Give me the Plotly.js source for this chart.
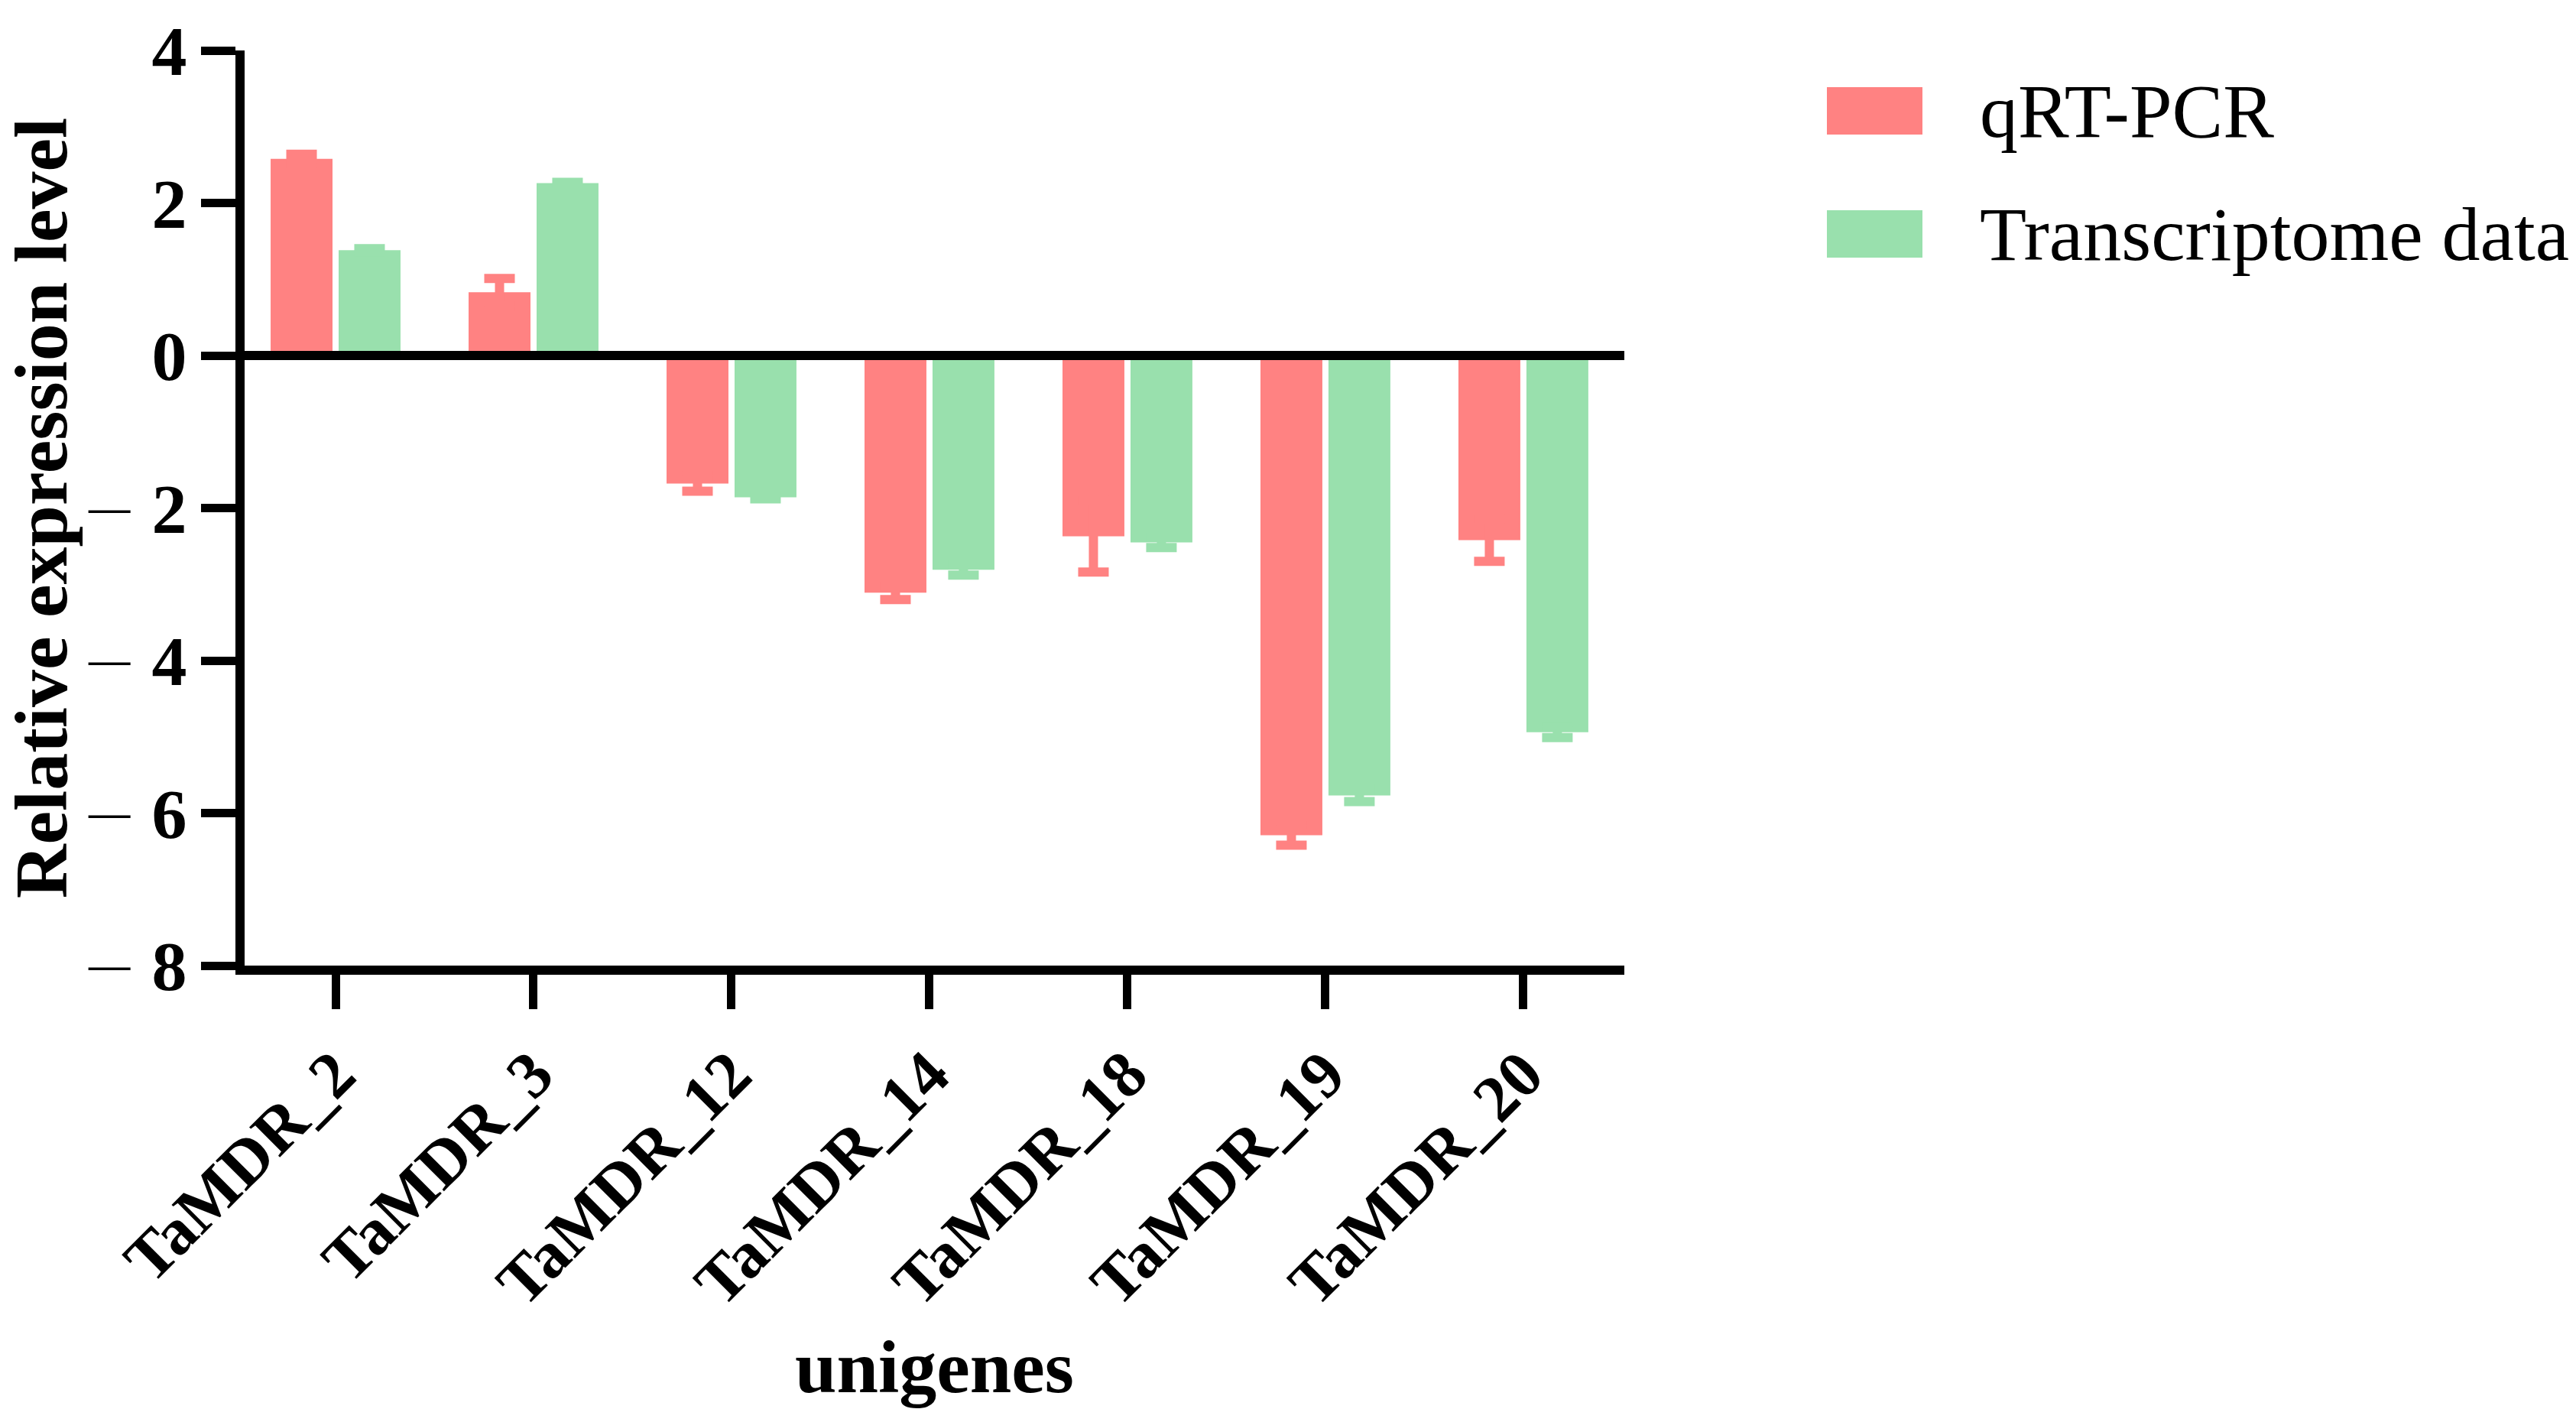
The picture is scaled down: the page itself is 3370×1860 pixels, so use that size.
<!DOCTYPE html>
<html><head><meta charset="utf-8">
<script src="https://cdn.plot.ly/plotly-3.0.1.min.js"></script>
<style>html,body{margin:0;padding:0;background:#fff}#chart{width:3370px;height:1860px}</style>
</head><body><div id="chart"></div>
<script>
// ---- data ----
const categories = ['TaMDR_2', 'TaMDR_3', 'TaMDR_12', 'TaMDR_14', 'TaMDR_18', 'TaMDR_19', 'TaMDR_20'];
const qrtpcrValues = [2.58, 0.83, -1.68, -3.11, -2.37, -6.29, -2.42];
const qrtpcrErrors = [0.06, 0.18, 0.10, 0.09, 0.47, 0.13, 0.28];
const transcriptomeValues = [1.38, 2.26, -1.86, -2.81, -2.45, -5.77, -4.94];
const transcriptomeErrors = [0.02, 0.01, 0.02, 0.07, 0.07, 0.08, 0.07];
const seriesNames = ['qRT-PCR', 'Transcriptome data'];
const seriesColors = ['#FF8282', '#99E0AD'];
const yTickValues = [-8, -6, -4, -2, 0, 2, 4];
const yTickText = yTickValues.map(v => v < 0
  ? '<span style="font-family:\'DejaVu Sans\';font-weight:200;font-size:88px">\u2212</span>\u2009' + Math.abs(v)
  : String(v));

// ---- layout geometry ----
const W = 3370, H = 1860;
const M = {l: 320, r: 1245, t: 66, b: 597};
const plotW = W - M.l - M.r, plotH = H - M.t - M.b;
const px2x = p => (p - M.l) / plotW;
const px2y = p => (H - M.b - p) / plotH;
const FONT = 'Liberation Serif, Times New Roman, serif';

function barTrace(name, vals, errs, color) {
  return {
    type: 'bar', name: name, x: categories, y: vals,
    marker: {color: color, line: {width: 0}},
    error_y: {type: 'data', array: errs, symmetric: true, visible: true,
              color: color, thickness: 12, width: 20},
    showlegend: false, hoverinfo: 'x+y'
  };
}

const data = [
  barTrace(seriesNames[0], qrtpcrValues, qrtpcrErrors, seriesColors[0]),
  barTrace(seriesNames[1], transcriptomeValues, transcriptomeErrors, seriesColors[1])
];

// legend drawn manually (large swatches)
const legendRows = [{top: 114, bottom: 176}, {top: 275, bottom: 337}];
const shapes = [{
  type: 'line', xref: 'paper', yref: 'y', x0: 0, x1: 1, y0: 0, y1: 0,
  line: {color: '#000', width: 12}, layer: 'above'
}];
const annotations = [];
legendRows.forEach((r, i) => {
  shapes.push({type: 'rect', xref: 'paper', yref: 'paper',
    x0: px2x(2390), x1: px2x(2515), y0: px2y(r.bottom), y1: px2y(r.top),
    fillcolor: seriesColors[i], line: {width: 0}, layer: 'above'});
  annotations.push({xref: 'paper', yref: 'paper', x: px2x(2588), y: px2y((r.top + r.bottom) / 2),
    xanchor: 'left', yanchor: 'middle', showarrow: false, text: seriesNames[i],
    font: {family: FONT, size: 100, color: '#000'}});
});

const layout = {
  width: W, height: H,
  margin: M,
  paper_bgcolor: '#fff', plot_bgcolor: '#fff',
  barmode: 'group', bargap: 0.313, bargroupgap: 0.09,
  font: {family: FONT, color: '#000'},
  xaxis: {
    range: [-0.4595, 6.51], showgrid: false, zeroline: false,
    showline: true, linecolor: '#000', linewidth: 12,
    ticks: 'outside', ticklen: 45, tickwidth: 11, tickcolor: '#000',
    tickangle: -45,
    tickfont: {family: FONT, size: 86, weight: 'bold', color: '#000'},
    title: {text: 'unigenes', standoff: 33,
            font: {family: FONT, size: 98, weight: 'bold', color: '#000'}},
    automargin: false
  },
  yaxis: {
    range: [-8, 4], showgrid: false, zeroline: false,
    showline: true, linecolor: '#000', linewidth: 12,
    ticks: 'outside', ticklen: 45, tickwidth: 11, tickcolor: '#000',
    tickmode: 'array', tickvals: yTickValues, ticktext: yTickText,
    tickfont: {family: FONT, size: 92, weight: 'bold', color: '#000'},
    title: {text: 'Relative expression level', standoff: 30,
            font: {family: FONT, size: 98, weight: 'bold', color: '#000'}},
    automargin: false
  },
  shapes: shapes,
  annotations: annotations,
  showlegend: false
};

Plotly.newPlot('chart', data, layout, {displayModeBar: false, staticPlot: true});
</script>
</body></html>
